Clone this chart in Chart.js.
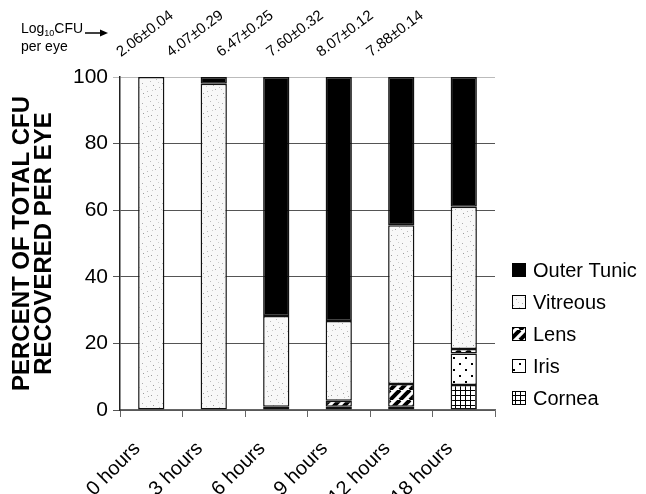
<!DOCTYPE html>
<html>
<head>
<meta charset="utf-8">
<script src="https://cdn.jsdelivr.net/npm/chart.js@4.4.1/dist/chart.umd.min.js"></script>
<style>
  html, body { margin: 0; padding: 0; background: #fff; }
  #wrap { width: 646px; height: 494px; }
</style>
</head>
<body>
<div id="wrap"><canvas id="chart" width="646" height="494"></canvas></div>
<script>
// Zaman noktaları ve göz başına log10 CFU
const categories = ['0 hours', '3 hours', '6 hours', '9 hours', '12 hours', '18 hours'];
const logCfu = ['2.06±0.04', '4.07±0.29', '6.47±0.25', '7.60±0.32', '8.07±0.12', '7.88±0.14'];

// Doku başına yüzde (alttan üste)
const cornea     = [0, 0, 0.3, 1.0, 1.0, 7.5];
const iris       = [0, 0, 0, 0, 0, 9.5];
const lens       = [0, 0, 0.7, 1.8, 6.8, 1.3];
const vitreous   = [100, 98, 27.2, 23.9, 47.7, 42.7];
const outerTunic = [0, 2, 71.8, 73.3, 44.5, 39.0];

const yTicks = [0, 20, 40, 60, 80, 100];

const FONT = '"Liberation Sans", Arial, sans-serif';
const canvas = document.getElementById('chart');
const ctx = canvas.getContext('2d');

function makePattern(size, draw) {
  const c = document.createElement('canvas');
  c.width = size;
  c.height = size;
  const g = c.getContext('2d');
  g.fillStyle = '#fff';
  g.fillRect(0, 0, size, size);
  draw(g, size);
  return ctx.createPattern(c, 'repeat');
}

// noktalı (vitreous)
const stipple = makePattern(20, (g) => {
  g.fillStyle = '#f8f8f8';
  g.fillRect(0, 0, 20, 20);
  const dots = [[2, 3, '#aaa'], [7, 11, '#bbb'], [13, 5, '#999'], [17, 15, '#bbb'], [4, 17, '#ccc'],
                [10, 1, '#bbb'], [15, 9, '#aaa'], [1, 9, '#ccc'], [11, 15, '#999'], [18, 2, '#ccc'],
                [6, 6, '#ccc'], [16, 19, '#bbb'], [8, 16, '#aaa'], [19, 7, '#bbb'], [3, 13, '#999'],
                [12, 10, '#ccc']];
  dots.forEach(([x, y, c]) => { g.fillStyle = c; g.fillRect(x, y, 1, 1); });
});

// çapraz çizgili (lens)
const stripes = makePattern(10, (g, s) => {
  g.strokeStyle = '#000';
  g.lineWidth = 4;
  for (let k = -1; k <= 1; k++) {
    g.beginPath();
    g.moveTo(k * s, s);
    g.lineTo(k * s + s, 0);
    g.stroke();
  }
});

// seyrek nokta (iris)
const dotted = makePattern(12, (g) => {
  g.fillStyle = '#000';
  g.fillRect(3, 3, 2, 2);
  g.fillRect(9, 9, 2, 2);
});

// ızgara (cornea)
const grid = makePattern(5, (g) => {
  g.fillStyle = '#000';
  g.fillRect(0, 0, 5, 1);
  g.fillRect(0, 0, 1, 5);
});

const datasets = [
  { label: 'Cornea', data: cornea, backgroundColor: grid },
  { label: 'Iris', data: iris, backgroundColor: dotted },
  { label: 'Lens', data: lens, backgroundColor: stripes },
  { label: 'Vitreous', data: vitreous, backgroundColor: stipple },
  { label: 'Outer Tunic', data: outerTunic, backgroundColor: '#000' }
].map(d => Object.assign(d, {
  borderColor: '#111',
  borderWidth: 1.5,
  borderSkipped: false,
  barPercentage: 0.84,
  categoryPercentage: 0.5
}));

// üst yazılar + sağ lejant
const extras = {
  id: 'extras',
  afterDraw(chart) {
    const c = chart.ctx;
    const area = chart.chartArea;
    c.save();
    c.fillStyle = '#000';

    // Log10CFU per eye ->
    c.font = '14px ' + FONT;
    c.textAlign = 'left';
    c.textBaseline = 'alphabetic';
    c.fillText('Log', 21, 33);
    let w = c.measureText('Log').width;
    c.font = '9px ' + FONT;
    c.fillText('10', 21 + w, 36);
    let w2 = c.measureText('10').width;
    c.font = '14px ' + FONT;
    c.fillText('CFU', 21 + w + w2, 33);
    c.fillText('per eye', 21, 51);

    c.strokeStyle = '#000';
    c.lineWidth = 1.5;
    c.beginPath();
    c.moveTo(85, 33);
    c.lineTo(102, 33);
    c.stroke();
    c.beginPath();
    c.moveTo(108, 33);
    c.lineTo(100, 29.5);
    c.lineTo(100, 36.5);
    c.closePath();
    c.fill();

    // log CFU değerleri
    c.font = '15px ' + FONT;
    c.textAlign = 'center';
    c.textBaseline = 'middle';
    logCfu.forEach((t, i) => {
      c.save();
      c.translate(area.left + 25 + i * 50, 34);
      c.rotate(-37 * Math.PI / 180);
      c.fillText(t, 0, 0);
      c.restore();
    });

    // lejant (ters sıra)
    const items = chart.data.datasets.slice().reverse();
    c.font = '20px ' + FONT;
    c.textAlign = 'left';
    items.forEach((ds, i) => {
      const cy = area.bottom - 12 - 32 * (items.length - 1 - i);
      const bx = area.right + 17;
      c.fillStyle = ds.backgroundColor;
      c.fillRect(bx, cy - 7, 14, 14);
      c.strokeStyle = '#000';
      c.lineWidth = 1;
      c.strokeRect(bx + 0.5, cy - 6.5, 13, 13);
      c.fillStyle = '#000';
      c.fillText(ds.label, bx + 21, cy + 1);
    });
    c.restore();
  }
};

new Chart(ctx, {
  type: 'bar',
  data: { labels: categories, datasets: datasets },
  options: {
    responsive: false,
    animation: false,
    layout: { padding: { top: 77, right: 151, left: 0, bottom: 0 } },
    plugins: {
      legend: { display: false },
      tooltip: { enabled: false }
    },
    scales: {
      x: {
        stacked: true,
        afterFit: (scale) => { scale.height = 84; },
        grid: { drawOnChartArea: false, drawTicks: true, tickLength: 7, color: '#666' },
        border: { color: '#666', width: 1.2 },
        ticks: {
          color: '#000',
          font: { family: FONT, size: 20 },
          minRotation: 45,
          maxRotation: 45,
          padding: 20,
          labelOffset: -14
        }
      },
      y: {
        stacked: true,
        min: 0,
        max: 100,
        afterFit: (scale) => { scale.width = 120; },
        afterBuildTicks: (scale) => { scale.ticks = yTicks.map(v => ({ value: v })); },
        grid: {
          color: (c) => (c.tick && c.tick.value === 100 ? '#bbb' : '#555'),
          lineWidth: 1,
          tickLength: 7
        },
        border: { color: '#222', width: 1.5 },
        ticks: {
          color: '#000',
          font: { family: FONT, size: 21 },
          padding: 5
        },
        title: {
          display: true,
          text: ['PERCENT OF TOTAL CFU', 'RECOVERED PER EYE'],
          color: '#000',
          font: { family: FONT, size: 24, weight: 'bold', lineHeight: 0.9 },
          padding: { top: 12, bottom: 0 }
        }
      }
    }
  },
  plugins: [extras]
});
</script>
</body>
</html>
